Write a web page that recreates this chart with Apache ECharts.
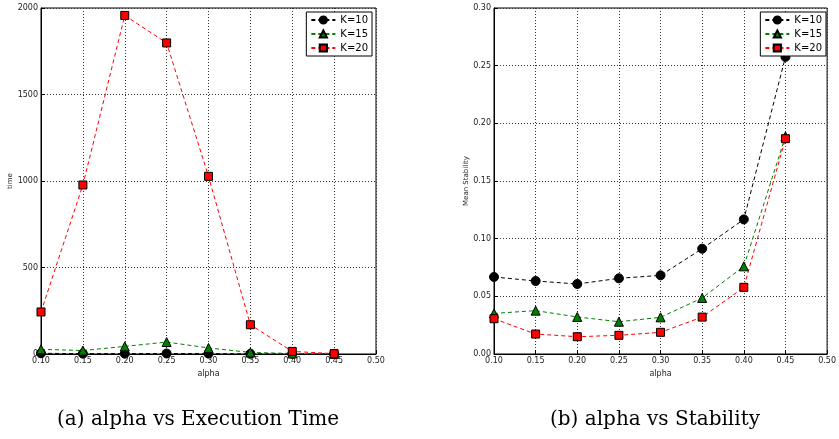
<!DOCTYPE html>
<html>
<head>
<meta charset="utf-8">
<script src="https://cdn.jsdelivr.net/npm/echarts@6/dist/echarts.min.js"></script>
<style>
  html, body { margin: 0; padding: 0; background: #fff; }
  #chart { width: 839px; height: 439px; }
</style>
</head>
<body>
<div id="chart"></div>
<script>
// alpha values on the x axis
const alphas = [0.10, 0.15, 0.20, 0.25, 0.30, 0.35, 0.40, 0.45];
const seriesNames = ['K=10', 'K=15', 'K=20'];

// (a) execution time
const timeK10 = [4, 2, 2, 3, 2, 1, 1, 1];
const timeK15 = [27, 20, 44, 69, 35, 9, 3, 1];
const timeK20 = [243, 977, 1957, 1798, 1027, 169, 15, 2];

// (b) mean stability
const stabK10 = [0.0668, 0.0633, 0.0607, 0.0656, 0.0682, 0.0913, 0.1167, 0.2576];
const stabK15 = [0.0352, 0.0376, 0.0321, 0.0280, 0.0318, 0.0486, 0.0760, 0.1887];
const stabK20 = [0.0306, 0.0173, 0.0150, 0.0162, 0.0188, 0.0320, 0.0578, 0.1867];

const captions = ['(a) alpha vs Execution Time', '(b) alpha vs Stability'];

const styles = [
    { color: '#000000', symbol: 'circle', size: 9 },
    { color: '#008000', symbol: 'triangle', size: 9 },
    { color: '#ff0000', symbol: 'rect', size: 8 }
];

function pairs(ys) {
    return alphas.map(function(a, i) { return [a, ys[i]]; });
}

function makeSeries(data, idx) {
    return data.map(function(ys, i) {
        return {
            name: seriesNames[i],
            type: 'line',
            xAxisIndex: idx,
            yAxisIndex: idx,
            data: pairs(ys),
            symbol: styles[i].symbol,
            symbolSize: styles[i].size,
            showAllSymbol: true,
            clip: false,
            lineStyle: { color: styles[i].color, width: 1, type: [4, 3] },
            itemStyle: { color: styles[i].color, borderColor: '#000', borderWidth: 1 },
            emphasis: { disabled: true },
            animation: false
        };
    });
}

const tickFont = { fontFamily: 'DejaVu Sans', fontSize: 8, color: '#222' };
const gridLine = { show: true, lineStyle: { color: '#333', type: [1, 2], width: 1 } };

function xAxis(idx) {
    return {
        type: 'value', gridIndex: idx, min: 0.10, max: 0.50, interval: 0.05,
        name: 'alpha', nameLocation: 'middle', nameGap: 12,
        nameTextStyle: { fontFamily: 'DejaVu Sans', fontSize: 8, color: '#222' },
        axisLine: { lineStyle: { color: '#000', width: 1 } },
        axisTick: { inside: true, length: 4, lineStyle: { color: '#000' } },
        axisLabel: Object.assign({ margin: 3, formatter: function(v) { return v.toFixed(2); } }, tickFont),
        splitLine: gridLine
    };
}

function yAxis(idx, max, interval, name, fmt, gap) {
    return {
        type: 'value', gridIndex: idx, min: 0, max: max, interval: interval,
        name: name, nameLocation: 'middle', nameGap: gap, nameRotate: 90,
        nameTextStyle: { fontFamily: 'DejaVu Sans', fontSize: 7, color: '#222' },
        axisLine: { lineStyle: { color: '#000', width: 1 } },
        axisTick: { inside: true, length: 4, lineStyle: { color: '#000' } },
        axisLabel: Object.assign({ margin: 3, formatter: fmt }, tickFont),
        splitLine: gridLine
    };
}

function legend(idx, right) {
    return {
        show: true,
        orient: 'vertical',
        right: right, top: 12,
        padding: [3, 4, 3, 4],
        itemGap: 4,
        itemWidth: 24, itemHeight: 9,
        borderColor: '#000', borderWidth: 1,
        backgroundColor: '#fff',
        textStyle: { fontFamily: 'DejaVu Sans', fontSize: 10, color: '#000' },
        data: seriesNames,
        selectedMode: false
    };
}

const chart = echarts.init(document.getElementById('chart'));

const timeSeries = makeSeries([timeK10, timeK15, timeK20], 0);
const stabSeries = makeSeries([stabK10, stabK15, stabK20], 1);

const option = {
    backgroundColor: '#fff',
    animation: false,
    grid: [
        { left: 41, right: 463, top: 8, bottom: 85, show: true, borderColor: '#000', borderWidth: 1 },
        { left: 494, right: 8, top: 8, bottom: 85, show: true, borderColor: '#000', borderWidth: 1 }
    ],
    xAxis: [xAxis(0), xAxis(1)],
    yAxis: [
        yAxis(0, 2000, 500, 'time', function(v) { return String(v); }, 25),
        yAxis(1, 0.30, 0.05, 'Mean Stability', function(v) { return v.toFixed(2); }, 23)
    ],
    legend: [legend(0, 467), legend(1, 13)],
    series: timeSeries.concat(stabSeries),
    graphic: [
        {
            type: 'text', left: 57, top: 410,
            style: { text: captions[0], font: '20px "DejaVu Serif"', fill: '#000' }
        },
        {
            type: 'text', left: 550, top: 410,
            style: { text: captions[1], font: '20px "DejaVu Serif"', fill: '#000' }
        }
    ]
};

chart.setOption(option);
</script>
</body>
</html>
